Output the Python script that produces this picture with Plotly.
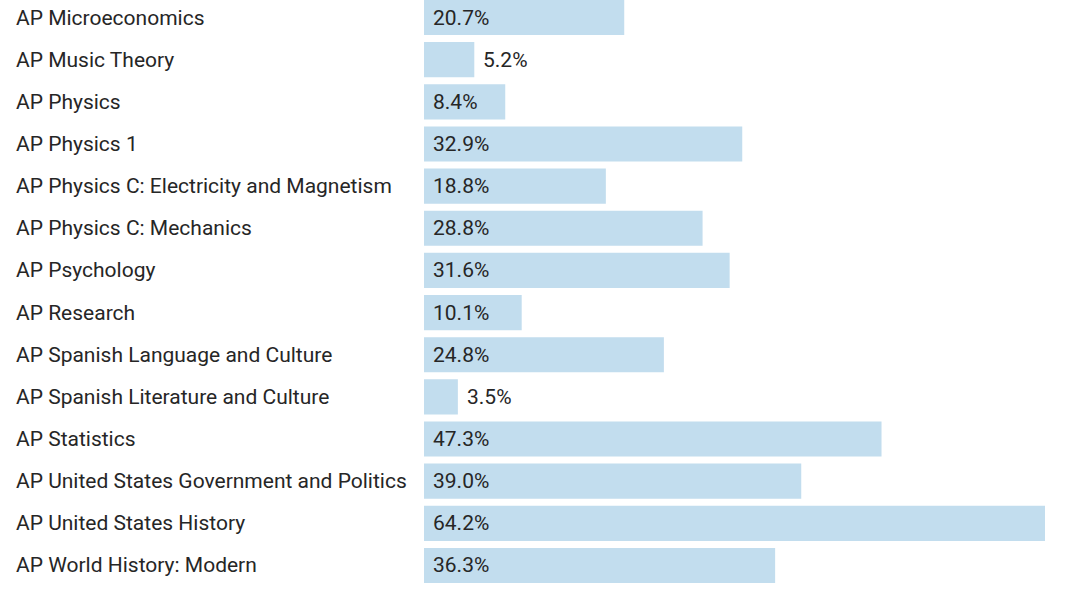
import plotly.graph_objects as go

courses = [
    "AP Microeconomics",
    "AP Music Theory",
    "AP Physics",
    "AP Physics 1",
    "AP Physics C: Electricity and Magnetism",
    "AP Physics C: Mechanics",
    "AP Psychology",
    "AP Research",
    "AP Spanish Language and Culture",
    "AP Spanish Literature and Culture",
    "AP Statistics",
    "AP United States Government and Politics",
    "AP United States History",
    "AP World History: Modern",
]
pct = [20.7, 5.2, 8.4, 32.9, 18.8, 28.8, 31.6, 10.1, 24.8, 3.5, 47.3, 39.0, 64.2, 36.3]

W, H = 1080, 599
L = 424
px_per = (1045 - 424) / 64.2
xmax = (W - L) / px_per
row = 42.15
r0 = -17.5 / row
r1 = r0 + H / row

FONT = "Roboto"
TXT = "#262626"
FS = 21

fig = go.Figure()
fig.add_trace(go.Bar(
    x=pct, y=list(range(len(courses))), orientation="h",
    marker=dict(color="#c2ddee", line=dict(width=0)),
    hoverinfo="skip",
))

ann = []
for i, (c, v) in enumerate(zip(courses, pct)):
    ann.append(dict(x=(14 - L) / (W - L), xref="paper", y=i, yref="y",
                    text=c, showarrow=False, xanchor="left", yanchor="middle",
                    font=dict(family=FONT, size=FS, color=TXT)))
    inside = v > 7
    ann.append(dict(x=0 if inside else v, xref="x", y=i, yref="y",
                    text=f"{v:.1f}%", showarrow=False, xanchor="left", yanchor="middle",
                    xshift=7,
                    font=dict(family=FONT, size=FS, color=TXT)))

fig.update_layout(
    width=W, height=H,
    margin=dict(l=L, r=0, t=0, b=0),
    plot_bgcolor="white", paper_bgcolor="white",
    bargap=7 / 42.15,
    showlegend=False,
    annotations=ann,
    xaxis=dict(range=[0, xmax], visible=False, fixedrange=True),
    yaxis=dict(range=[r1, r0], visible=False, fixedrange=True),
)
fig.write_html("out.html", config={"displayModeBar": False},
               post_script="document.body.style.margin='0';document.body.style.overflow='hidden';")
